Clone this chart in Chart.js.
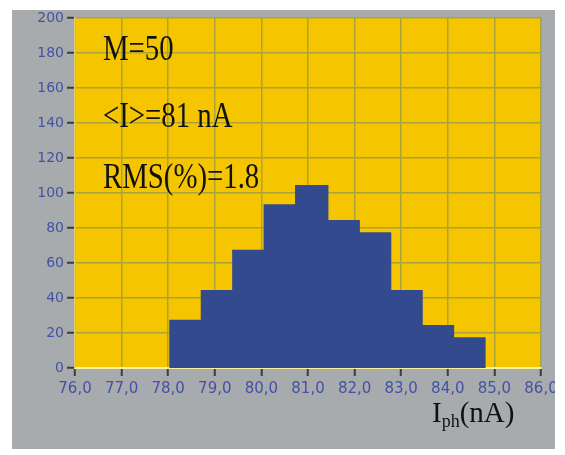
<!DOCTYPE html>
<html>
<head>
<meta charset="utf-8">
<script src="https://cdn.jsdelivr.net/npm/chart.js@4"></script>
<style>
  html, body { margin: 0; padding: 0; background: #ffffff; }
  #wrap { position: relative; width: 565px; height: 455px; }
</style>
</head>
<body>
<div id="wrap"><canvas id="histChart" width="565" height="455"></canvas></div>
<script>
    // histogram bins (centre of each bin, nA) and counts
    var binCentres = [78.382, 79.057, 79.731, 80.406, 81.080, 81.755, 82.429, 83.104, 83.778, 84.453];
    var counts = [27, 44, 67, 93, 104, 84, 77, 44, 24, 17];
    var notes = ['M=50', '<I>=81 nA', 'RMS(%)=1.8'];

    var points = binCentres.map(function (c, i) { return { x: c, y: counts[i] }; });

    // grey panel + yellow plot background, text drawn on top
    var panelPlugin = {
        id: 'panel',
        beforeDraw: function (chart) {
            var c = chart.ctx, a = chart.chartArea;
            c.save();
            c.fillStyle = '#ffffff';
            c.fillRect(0, 0, chart.width, chart.height);
            c.fillStyle = '#a8abae';
            c.fillRect(12, 10, 543, 439);
            c.fillStyle = '#f5c600';
            c.fillRect(a.left, a.top, a.right - a.left, a.bottom - a.top);
            c.restore();
        },
        afterDraw: function (chart) {
            var c = chart.ctx;
            c.save();
            // notes in the plot, narrow serif
            c.fillStyle = '#111111';
            c.font = '36px "Liberation Serif", serif';
            c.textBaseline = 'alphabetic';
            var baselines = [60, 127, 188];
            notes.forEach(function (t, i) {
                c.save();
                c.translate(103, baselines[i]);
                c.scale(0.8, 1);
                c.fillText(t, 0, 0);
                c.restore();
            });
            // axis title I_ph(nA)
            var x = 432;
            c.font = '29px "Liberation Serif", serif';
            c.fillText('I', x, 422);
            x += c.measureText('I').width;
            c.font = '18px "Liberation Serif", serif';
            c.fillText('ph', x, 427);
            x += c.measureText('ph').width;
            c.font = '29px "Liberation Serif", serif';
            c.fillText('(nA)', x, 422);
            // white margin round the panel
            c.fillStyle = '#ffffff';
            c.fillRect(555, 0, 10, chart.height);
            c.fillRect(0, 0, 12, chart.height);
            c.fillRect(0, 0, chart.width, 10);
            c.fillRect(0, 449, chart.width, 6);
            c.restore();
        }
    };

    var ctx = document.getElementById('histChart').getContext('2d');
    var myChart = new Chart(ctx, {
        type: 'bar',
        data: {
            datasets: [{
                data: points,
                backgroundColor: '#334a8f',
                borderWidth: 0,
                inflateAmount: 1,
                barPercentage: 1.0,
                categoryPercentage: 1.0
            }]
        },
        options: {
            responsive: false,
            animation: false,
            layout: { padding: { top: 18, right: 24, left: 0, bottom: 0 } },
            plugins: {
                legend: { display: false },
                tooltip: { enabled: false }
            },
            scales: {
                x: {
                    type: 'linear',
                    min: 76,
                    max: 86,
                    offset: false,
                    afterFit: function (s) { s.height = 87; },
                    grid: {
                        offset: false,
                        color: '#a9a33a',
                        lineWidth: 1.5,
                        tickColor: '#3c3c3c',
                        tickWidth: 2,
                        tickLength: 8
                    },
                    border: { color: '#f8f1a0', width: 2 },
                    ticks: {
                        stepSize: 1,
                        padding: 4,
                        maxRotation: 0,
                        autoSkip: false,
                        color: '#4352a2',
                        font: { family: 'DejaVu Sans', size: 15 },
                        callback: function (v) { return v.toFixed(1).replace('.', ','); }
                    }
                },
                y: {
                    min: 0,
                    max: 200,
                    afterFit: function (s) { s.width = 75; },
                    grid: {
                        color: '#a9a33a',
                        lineWidth: 1.5,
                        tickColor: '#3c3c3c',
                        tickWidth: 2,
                        tickLength: 8
                    },
                    border: { color: '#d9cf6a', width: 1.5 },
                    ticks: {
                        stepSize: 20,
                        padding: 3,
                        color: '#4352a2',
                        font: { family: 'DejaVu Sans', size: 14 }
                    }
                }
            }
        },
        plugins: [panelPlugin]
    });
</script>
</body>
</html>
